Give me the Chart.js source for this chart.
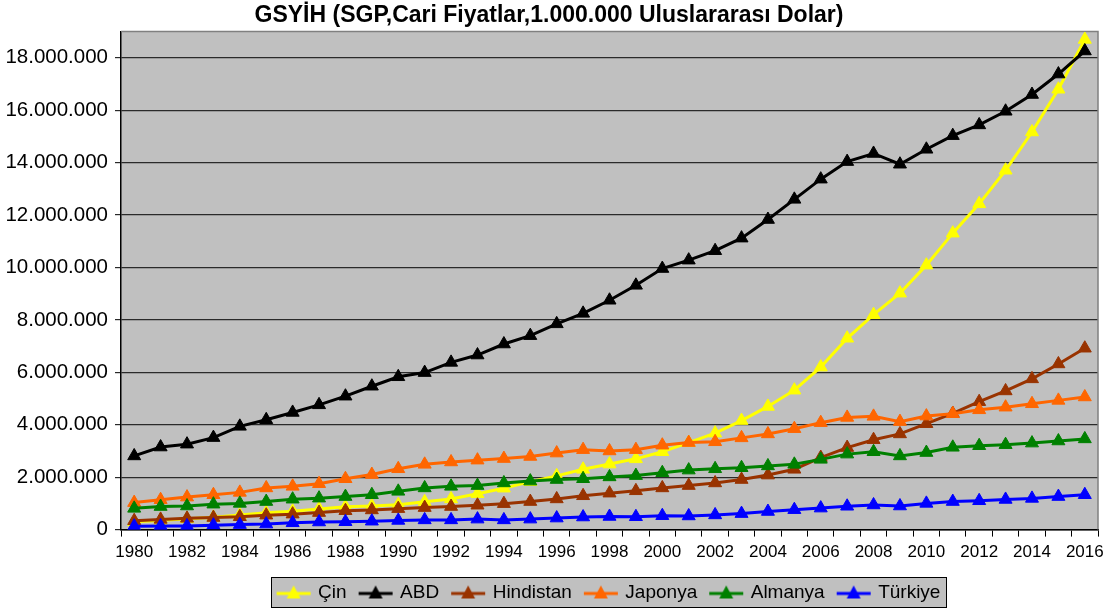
<!DOCTYPE html>
<html>
<head>
<meta charset="utf-8">
<script src="https://cdn.jsdelivr.net/npm/chart.js@4/dist/chart.umd.min.js"></script>
<style>
html,body{margin:0;padding:0;background:#ffffff;}
#wrap{width:1120px;height:615px;position:relative;}
</style>
</head>
<body>
<div id="wrap"><canvas id="c" width="1120" height="615"></canvas></div>
<script>
const years = [1980,1981,1982,1983,1984,1985,1986,1987,1988,1989,1990,1991,1992,1993,1994,1995,1996,1997,1998,1999,2000,2001,2002,2003,2004,2005,2006,2007,2008,2009,2010,2011,2012,2013,2014,2015,2016];

const cin = [300000,350000,410000,470000,560000,640000,700000,790000,870000,900000,950000,1060000,1170000,1370000,1580000,1830000,2050000,2300000,2500000,2700000,2970000,3320000,3680000,4160000,4700000,5320000,6200000,7300000,8200000,9020000,10090000,11310000,12430000,13710000,15170000,16800000,18700000];
const abd = [2810000,3150000,3260000,3510000,3940000,4190000,4470000,4760000,5090000,5470000,5830000,5990000,6380000,6660000,7080000,7400000,7850000,8250000,8750000,9320000,9960000,10280000,10640000,11120000,11830000,12600000,13370000,14040000,14350000,13940000,14510000,15030000,15440000,15960000,16600000,17380000,18260000];
const hindistan = [340000,390000,430000,460000,490000,550000,590000,650000,720000,750000,800000,840000,880000,930000,990000,1070000,1170000,1290000,1390000,1480000,1590000,1680000,1780000,1910000,2080000,2300000,2750000,3130000,3430000,3650000,4040000,4430000,4880000,5290000,5750000,6320000,6920000];
const japonya = [1030000,1140000,1240000,1330000,1420000,1590000,1650000,1750000,1940000,2100000,2320000,2490000,2580000,2650000,2710000,2790000,2920000,3050000,3000000,3050000,3220000,3320000,3350000,3500000,3650000,3850000,4080000,4280000,4320000,4120000,4330000,4420000,4570000,4670000,4800000,4930000,5060000];
const almanya = [810000,880000,900000,970000,1000000,1070000,1160000,1200000,1260000,1330000,1460000,1590000,1650000,1680000,1780000,1850000,1910000,1940000,2010000,2060000,2170000,2270000,2320000,2360000,2430000,2490000,2680000,2880000,2970000,2810000,2940000,3140000,3200000,3240000,3300000,3380000,3460000];
const turkiye = [130000,140000,140000,170000,190000,210000,260000,290000,300000,320000,350000,370000,370000,400000,370000,400000,440000,480000,500000,490000,530000,520000,560000,610000,690000,760000,820000,890000,940000,900000,1000000,1070000,1100000,1150000,1190000,1260000,1330000];

const seriesNames = ['Çin','ABD','Hindistan','Japonya','Almanya','Türkiye'];
const seriesData = [cin, abd, hindistan, japonya, almanya, turkiye];
const seriesColors = ['#FFFF00','#000000','#993300','#FF6600','#008000','#0000FF'];
const yTicks = [0,2000000,4000000,6000000,8000000,10000000,12000000,14000000,16000000,18000000];

function fmt(v){ return String(v).replace(/\B(?=(\d{3})+(?!\d))/g,'.'); }

function makeIcon(color){
  const cv = document.createElement('canvas');
  cv.width = 36; cv.height = 16;
  const g = cv.getContext('2d');
  g.strokeStyle = color; g.lineWidth = 3;
  g.beginPath(); g.moveTo(1,9); g.lineTo(35,9); g.stroke();
  g.fillStyle = color;
  g.beginPath(); g.moveTo(18,1); g.lineTo(25,14); g.lineTo(11,14); g.closePath(); g.fill();
  return cv;
}
const icons = seriesColors.map(makeIcon);

const bgPlugin = {
  id: 'bgPlugin',
  beforeDraw(chart){
    const {ctx, chartArea:a} = chart;
    ctx.save();
    ctx.fillStyle = '#ffffff';
    ctx.fillRect(0,0,chart.width,chart.height);
    ctx.fillStyle = '#C0C0C0';
    ctx.fillRect(a.left, a.top, a.right-a.left, a.bottom-a.top);
    const lg = chart.legend;
    if (lg && lg.legendHitBoxes && lg.legendHitBoxes.length){
      let l=Infinity,r=-Infinity,t=Infinity,b=-Infinity;
      lg.legendHitBoxes.forEach(h=>{ l=Math.min(l,h.left); r=Math.max(r,h.left+h.width); t=Math.min(t,h.top); b=Math.max(b,h.top+h.height); });
      const x0 = Math.round(l-8)+0.5, x1 = Math.round(r+6)+0.5, y0 = Math.round(t-6)+0.5, y1 = Math.round(b+5)+0.5;
      ctx.fillStyle = '#C0C0C0';
      ctx.fillRect(x0,y0,x1-x0,y1-y0);
      ctx.strokeStyle = '#000000'; ctx.lineWidth = 1;
      ctx.strokeRect(x0,y0,x1-x0,y1-y0);
    }
    ctx.restore();
  },
  beforeDatasetsDraw(chart){
    const {ctx, chartArea:a} = chart;
    ctx.save();
    ctx.strokeStyle = '#808080'; ctx.lineWidth = 1.5;
    ctx.beginPath();
    ctx.moveTo(a.left, a.top); ctx.lineTo(a.right, a.top); ctx.lineTo(a.right, a.bottom);
    ctx.stroke();
    ctx.restore();
  }
};

const FONT = "'Liberation Sans', Arial, sans-serif";

const datasets = seriesNames.map((n,i)=>({
  label: n,
  data: seriesData[i],
  borderColor: seriesColors[i],
  backgroundColor: seriesColors[i],
  pointBackgroundColor: seriesColors[i],
  pointBorderColor: seriesColors[i],
  borderWidth: 3,
  pointStyle: 'triangle',
  pointRadius: 7.5,
  pointBorderWidth: 1,
  tension: 0,
  fill: false,
  order: seriesNames.length - i
}));

new Chart(document.getElementById('c'), {
  type: 'line',
  data: { labels: years, datasets },
  options: {
    responsive: false,
    animation: false,
    devicePixelRatio: 1,
    layout: { padding: { left: 0, right: 22, top: 0, bottom: 3 } },
    plugins: {
      tooltip: { enabled: false },
      title: {
        display: true,
        text: 'GSYİH (SGP,Cari Fiyatlar,1.000.000 Uluslararası Dolar)',
        color: '#000',
        font: { family: FONT, size: 23, weight: 'bold' },
        padding: { top: 2, bottom: 2 }
      },
      legend: {
        position: 'bottom',
        fullSize: false,
        labels: {
          color: '#000',
          font: { family: FONT, size: 19 },
          usePointStyle: true,
          pointStyleWidth: 30,
          padding: 14,
          generateLabels(chart){
            const items = Chart.defaults.plugins.legend.labels.generateLabels(chart);
            items.sort((a,b)=>a.datasetIndex-b.datasetIndex);
            items.forEach(it=>{ it.pointStyle = icons[it.datasetIndex]; });
            return items;
          }
        }
      }
    },
    scales: {
      x: {
        type: 'category',
        offset: true,
        grid: { display: true, drawOnChartArea: false, drawTicks: true, tickLength: 7, offset: true, color: '#000' },
        border: { display: true, color: '#000', width: 1.5 },
        ticks: {
          autoSkip: false, maxRotation: 0, minRotation: 0,
          color: '#000', padding: 6,
          font: { family: FONT, size: 17 },
          callback(val, idx){ return idx % 2 === 0 ? String(years[idx]) : ''; }
        }
      },
      y: {
        min: 0, max: 19000000,
        afterFit(scale){ scale.width = 121; },
        afterBuildTicks(scale){ scale.ticks = yTicks.map(v=>({value:v})); },
        grid: { color: '#2a2a2a', lineWidth: 1.2, tickLength: 6 },
        border: { display: true, color: '#000', width: 1.5 },
        ticks: {
          color: '#000', padding: 7,
          font: { family: FONT, size: 20.5 },
          callback(v){ return fmt(v); }
        }
      }
    }
  },
  plugins: [bgPlugin]
});
</script>
</body>
</html>
